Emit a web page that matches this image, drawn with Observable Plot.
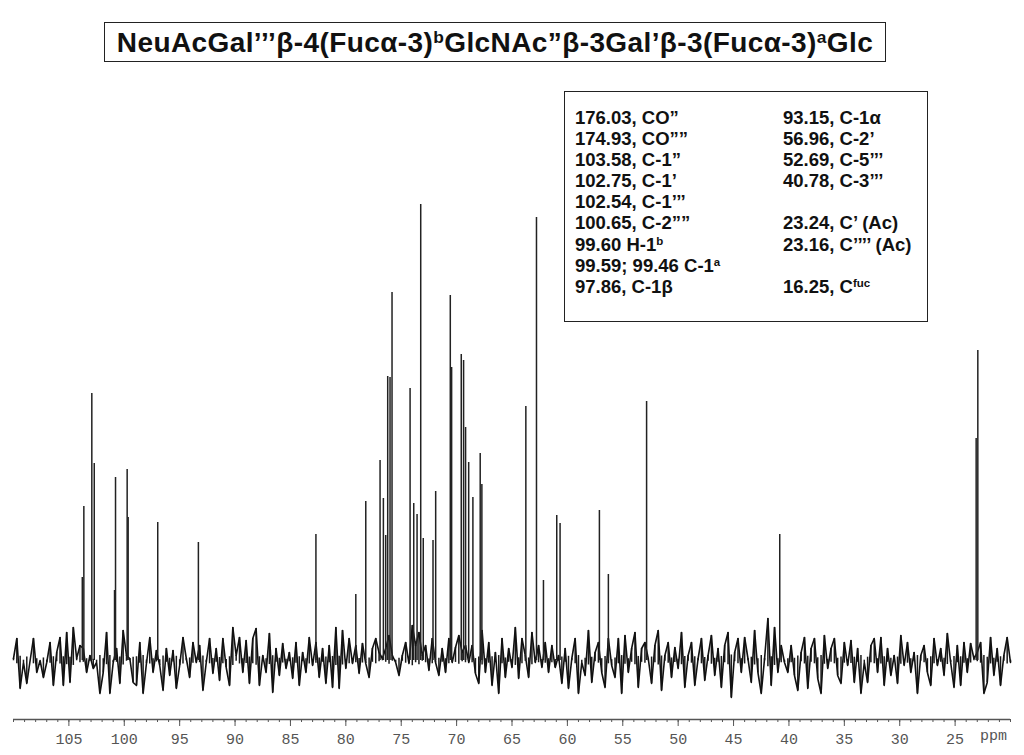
<!DOCTYPE html>
<html>
<head>
<meta charset="utf-8">
<script src="https://cdn.jsdelivr.net/npm/d3@7"></script>
<script src="https://cdn.jsdelivr.net/npm/@observablehq/plot@0.6"></script>
<style>
  html, body { margin: 0; padding: 0; background: #fff; }
  #wrap { position: relative; width: 1024px; height: 755px; overflow: hidden; background: #fff; }
  #chart { position: absolute; left: 0; top: 0; }
  #title {
    position: absolute; left: 104px; top: 22px; width: 780px; height: 38px;
    border: 1.5px solid #222; box-sizing: content-box;
    font-family: "Liberation Sans", Arial, sans-serif; font-weight: bold; font-size: 28px; letter-spacing: 0.4px;
    line-height: 39px; text-align: center; color: #111; white-space: nowrap;
  }
  #title sup, #legend sup { font-size: 0.62em; vertical-align: 0.5em; line-height: 0; }
  #legend {
    position: absolute; left: 564px; top: 91px; width: 362px; height: 229px;
    border: 1.5px solid #222; box-sizing: content-box;
    font-family: "Liberation Sans", Arial, sans-serif; font-weight: bold; font-size: 18.5px; color: #111;
  }
  .col { position: absolute; top: 15px; }
  .col div { height: 21.1px; line-height: 21.1px; white-space: nowrap; }
  #ppm { position: absolute; left: 980px; top: 728px; font-family: "Liberation Mono", monospace; font-size: 15px; color: #555; }
</style>
</head>
<body>
<div id="wrap">
  <div id="chart"></div>
  <div id="title"></div>
  <div id="legend"><div class="col" id="colL" style="left:10px"></div><div class="col" id="colR" style="left:218px"></div></div>
  <div id="ppm"></div>
</div>
<script>
// ---- Title and legend text ----
const titleText = "NeuAcGal’’’β-4(Fucα-3)<sup>b</sup>GlcNAc”β-3Gal’β-3(Fucα-3)<sup>a</sup>Glc";
const legendLeft = ["176.03, CO”", "174.93, CO””", "103.58, C-1”", "102.75, C-1’", "102.54, C-1’’’",
  "100.65, C-2””", "99.60 H-1<sup>b</sup>", "99.59; 99.46 C-1<sup>a</sup>", "97.86, C-1β"];
const legendRight = ["93.15, C-1α", "56.96, C-2’", "52.69, C-5’’’", "40.78, C-3’’’", "",
  "23.24, C’ (Ac)", "23.16, C’’’’ (Ac)", "", "16.25, C<sup>fuc</sup>"];

// ---- Axis ----
const majorTicks = [105, 100, 95, 90, 85, 80, 75, 70, 65, 60, 55, 50, 45, 40, 35, 30, 25];
const axisUnit = "ppm";

// ---- Peaks: chemical shift (ppm) and height (a.u.) ----
const peakPpm = [103.79, 103.65, 102.93, 102.71, 100.88, 100.79, 99.74, 99.65, 96.98, 93.31,
  82.70, 79.10, 78.20, 76.91, 76.61, 76.40, 76.22, 76.01, 75.83, 74.20,
  73.87, 73.57, 73.24, 73.01, 72.13, 71.89, 70.57, 70.45, 69.58, 69.37,
  69.19, 68.91, 68.53, 67.87, 67.72, 63.75, 62.79, 62.16, 60.96, 60.66,
  57.11, 56.30, 52.85, 40.83, 23.10, 22.95];
const peakHeight = [83, 154, 267, 197, 70, 183, 191, 143, 138, 118,
  126, 66, 159, 200, 162, 125, 284, 283, 368, 272,
  157, 146, 456, 122, 120, 169, 365, 293, 306, 300,
  233, 198, 163, 207, 176, 254, 443, 80, 145, 137,
  150, 86, 259, 126, 222, 310];

// ---- Baseline noise: estimated trace, sampled every 0.3 ppm from 110 ppm ----
const noiseStart = 110, noiseStep = 0.3;
const noise = [
  2, 22, -28, -2, -23, 0, 22, -12, 0, -17,
  -2, 18, -25, 8, 23, -25, 28, -22, 33, 2,
  15, 12, -12, 5, -8, -2, -33, -12, 28, -33,
  -2, 12, -23, 30, 5, 2, -22, -25, 18, -33,
  -3, 23, -12, 10, -5, -30, 12, -15, 10, -28,
  -5, 23, 2, -17, 18, -2, 15, -30, -2, 22,
  -13, 12, -20, 22, -7, -25, 33, 5, 23, -12,
  20, -23, 22,
  32, -25, 5, -12, 27, -32, 12, -15, 17, -8,
  8, -18, 18, -25, 8, -12, 23, -5, 18, -17,
  12, -23, 15, -27, 33, -28, 30, -8, 22, -3,
  15, -13, 17, -3, -17, 12, 22, 8, 2, 12,
  25, 5, -2, -15, 5, 18, -3, 35, 15, 28,
  5, 15, -10, 22, -2, -15, 12, -12, 22, -2,
  13, 25, 8, 15, -2, 15, -13, -23, 30, -12,
  18, -25, 8, -33, 22, -17, 12, -7,
  33, -18, 22, 5, -17, 28, -2, 15, -7, 18,
  -12, 15, -7, 5, -23, 12, -28, 2, 22, -33,
  -2, -15, 30, -22, 8, 18, -12, -27, 22, -5,
  -17, 22, -33, 25, -12, 12, 28, -27, 12, 18,
  2, -23, 15, 30, -30, 5, 18, -17, 13, -8,
  28, -27, 5, 18, -25, 2, 22, -20, 5, 25,
  -15, 12, -27, 15, 28, -37, 8, 22, -12, 23,
  2, -22, 30, -12, -33,
  2, 42, -25, 33, -12, 15, -2, -12, 15, -15,
  -30, 8, 23, -28, 12, 22, -18, -33, 25, -8,
  12, 22, -15, -23, 18, -5, 20, -22, 12, -33,
  -2, -22, 15, 22, -12, 23, -25, 12, -15, 5,
  -23, 25, -5, 18, -12, 8, -33, 5, 15, -12,
  -25, 22, -5, 12, -15, 27, -2, -27, 15, -25,
  18, -12, 17, 2, 8, 18, -33, -22, 23, -15,
  12, -25, 5, 23, -2
];

// ---- build tables ----
const peaks = peakPpm.map((p, i) => ({ppm: p, h: peakHeight[i]}));
const trace = noise.map((v, i) => ({ppm: noiseStart - noiseStep * i, v}));
const minorTicks = d3.range(110, 19.5, -1);

const chart = Plot.plot({
  width: 1024,
  height: 755,
  marginLeft: 13,
  marginRight: 14,
  marginTop: 20,
  marginBottom: 36,
  x: {domain: [110, 20]},
  y: {domain: [-59, 640], axis: null},
  style: {background: "transparent", overflow: "visible"},
  marks: [
    Plot.ruleY([-59], {stroke: "#555", strokeWidth: 1.3}),
    Plot.axisX(minorTicks, {tickSize: 3, text: null, stroke: "#555", label: null}),
    Plot.axisX(majorTicks, {tickSize: 7, tickPadding: 7, stroke: "#555", fill: "#555",
      fontSize: 15, fontFamily: "Liberation Mono, monospace", label: null, tickFormat: d => String(d)}),
    // dense noise core: each sample also drawn as a stroke from the baseline
    Plot.ruleX(trace, {x: "ppm", y1: d => -d.v * 0.15, y2: "v", stroke: "#1a1a1a", strokeWidth: 1.5}),
    Plot.line(trace, {x: "ppm", y: "v", stroke: "#111", strokeWidth: 1.6}),
    Plot.ruleX(peaks, {x: "ppm", y1: 0, y2: "h", stroke: "#222", strokeWidth: 1.5})
  ]
});
document.getElementById("chart").appendChild(chart);
document.getElementById("title").innerHTML = titleText;
document.getElementById("colL").innerHTML = legendLeft.map(t => `<div>${t}</div>`).join("");
document.getElementById("colR").innerHTML = legendRight.map(t => `<div>${t}</div>`).join("");
document.getElementById("ppm").textContent = axisUnit;
</script>
</body>
</html>
